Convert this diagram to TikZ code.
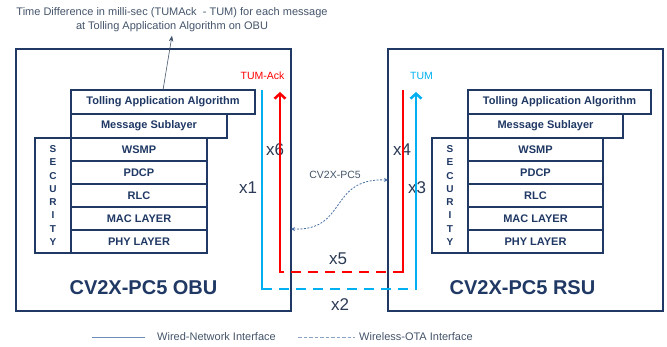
\documentclass[tikz,border=0pt]{standalone}
\usepackage{fontspec}
\setmainfont{Liberation Sans}
\usetikzlibrary{positioning, arrows.meta}
\definecolor{navy}{HTML}{1F3864}
\definecolor{slate}{HTML}{44546A}
\definecolor{hopcolor}{HTML}{2B3A55}
\definecolor{tumred}{HTML}{FF0000}
\definecolor{tumblue}{HTML}{00B0F0}
\definecolor{linkblue}{HTML}{4A6FA5}
\definecolor{legendblue}{HTML}{6A8CB8}
\tikzset{
	device/.style = {
		draw = navy,
		line width = 2pt,
		minimum width = 275pt,
		minimum height = 262pt,
		inner sep = 0pt,
		outer sep = 0pt
	},
	layer/.style = {
		draw = navy,
		line width = 2pt,
		fill = white,
		text = navy,
		font = \bfseries\fontsize{11}{13}\selectfont,
		minimum height = 23pt,
		inner sep = 0pt,
		outer sep = 0pt
	},
	security/.style = {
		layer,
		minimum width = 36pt,
		minimum height = 115pt,
		align = center,
		font = \bfseries\fontsize{10}{13.3}\selectfont
	},
	devlabel/.style = {
		text = navy,
		font = \bfseries\fontsize{20}{24}\selectfont
	},
	hoplabel/.style = {
		text = hopcolor,
		font = \fontsize{17}{20}\selectfont,
		inner sep = 0pt
	},
	tumlabel/.style = {
		font = \fontsize{10.5}{12}\selectfont,
		inner sep = 0pt
	},
	wired/.style = {
		line width = 2.5pt,
		line cap = rect
	},
	ota/.style = {
		line width = 2.5pt,
		dash pattern = on 10pt off 7pt
	},
	linkhead/.style = {
		-{Straight Barb[length=5pt,width=11pt]}
	},
	radio/.style = {
		draw = linkblue,
		line width = 0.8pt,
		dash pattern = on 2pt off 1.5pt,
		{Stealth[length=4pt,width=4pt]}-{Stealth[length=4pt,width=4pt]}
	},
	note/.style = {
		text = slate,
		align = center,
		font = \fontsize{11}{14}\selectfont
	},
	legendtext/.style = {
		text = slate,
		font = \fontsize{11}{13}\selectfont,
		inner sep = 1pt
	}
}

\begin{document}
\begin{tikzpicture}[x=1pt, y=1pt]
		\useasboundingbox (0,0) rectangle (667,347);

		\node[device]                    (obu) at (153.5,167) {};
		\node[device, right = 97pt of obu] (rsu) {};

		% OBU stack
		\node[layer, minimum width=184pt, minimum height=24pt, below right = 41pt and 55pt of obu.north west] (otap) {Tolling Application Algorithm};
		\node[layer, minimum width=156pt, minimum height=24pt, below right = 0pt and 0pt of otap.south west] (omsg) {Message Sublayer};
		\node[layer, minimum width=136pt, below right = 0pt and 0pt of omsg.south west]  (owsmp) {WSMP};
		\node[layer, minimum width=136pt, below right = 0pt and 0pt of owsmp.south west] (opdcp) {PDCP};
		\node[layer, minimum width=136pt, below right = 0pt and 0pt of opdcp.south west] (orlc)  {RLC};
		\node[layer, minimum width=136pt, below right = 0pt and 0pt of orlc.south west]  (omac)  {MAC LAYER};
		\node[layer, minimum width=136pt, below right = 0pt and 0pt of omac.south west]  (ophy)  {PHY LAYER};
		\node[security, below left = 0pt and 0pt of owsmp.north west] (osec) {S\\E\\C\\U\\R\\I\\T\\Y};

		% RSU stack
		\node[layer, minimum width=183pt, minimum height=24pt, below right = 41pt and 80pt of rsu.north west] (rtap) {Tolling Application Algorithm};
		\node[layer, minimum width=155pt, minimum height=24pt, below right = 0pt and 0pt of rtap.south west] (rmsg) {Message Sublayer};
		\node[layer, minimum width=135pt, below right = 0pt and 0pt of rmsg.south west]  (rwsmp) {WSMP};
		\node[layer, minimum width=135pt, below right = 0pt and 0pt of rwsmp.south west] (rpdcp) {PDCP};
		\node[layer, minimum width=135pt, below right = 0pt and 0pt of rpdcp.south west] (rrlc)  {RLC};
		\node[layer, minimum width=135pt, below right = 0pt and 0pt of rrlc.south west]  (rmac)  {MAC LAYER};
		\node[layer, minimum width=135pt, below right = 0pt and 0pt of rmac.south west]  (rphy)  {PHY LAYER};
		\node[security, below left = 0pt and 0pt of rwsmp.north west] (rsec) {S\\E\\C\\U\\R\\I\\T\\Y};

		\node[devlabel] (obuname) at ([xshift=-10pt, yshift=23pt]obu.south) {CV2X-PC5 OBU};
		\node[devlabel] (rsuname) at ([xshift=-3pt, yshift=23pt]rsu.south)  {CV2X-PC5 RSU};

		\node[note] (note) at (172,327) {Time Difference in milli-sec (TUMAck\ \ - TUM) for each message\\at Tolling Application Algorithm on OBU};
		\draw[slate, line width=0.6pt, -{Stealth[length=6pt,width=4.5pt]}] (otap.north) -- (note.south);

		% hop labels
		\node[hoplabel] (x1) at (248,159) {x1};
		\node[hoplabel] (x2) at (340,42)  {x2};
		\node[hoplabel] (x3) at (417,159) {x3};
		\node[hoplabel] (x4) at (402,197) {x4};
		\node[hoplabel] (x5) at (338,88)  {x5};
		\node[hoplabel] (x6) at (275,197) {x6};

		\node[tumlabel, text=tumred]  (ack) at (262.5,271) {TUM-Ack};
		\node[tumlabel, text=tumblue] (tum) at (421.5,271) {TUM};

		\coordinate (b1) at (262,256);
		\coordinate (b2) at (262,58);
		\coordinate (b3) at (416,58);
		\coordinate (b4) at (416,255);
		\coordinate (r1) at (403,256);
		\coordinate (r2) at (403,75);
		\coordinate (r3) at (280,75);
		\coordinate (r4) at (280,255);

		\draw[wired, tumblue] (b1) -- (b2);
		\draw[ota, tumblue]   (b2) -- (b3);
		\draw[wired, tumblue, linkhead] (b3) -- (b4);

		\draw[wired, tumred] (r1) -- (r2);
		\draw[ota, tumred]   (r2) -- (r3);
		\draw[wired, tumred, linkhead] (r3) -- (r4);

		\node[text=slate, font=\fontsize{10.5}{12}\selectfont] (pc5) at (335,172) {CV2X-PC5};
		\draw[radio] ([yshift=-49pt]obu.east) .. controls (348,116) and (328,169) .. (rsu.west);

		% legend
		\coordinate (w1) at (92,10);
		\coordinate (w2) at (145,10);
		\coordinate (o1) at (298,10);
		\coordinate (o2) at (355,10);
		\draw[legendblue, line width=0.8pt] (w1) -- (w2);
		\draw[legendblue!80, line width=0.8pt, dash pattern=on 3.5pt off 2pt] (o1) -- (o2);
		\node[legendtext, right = 11pt of w2] (wired) {Wired-Network Interface};
		\node[legendtext, right = 3pt of o2]  (wless) {Wireless-OTA Interface};

	\end{tikzpicture}
\end{document}
